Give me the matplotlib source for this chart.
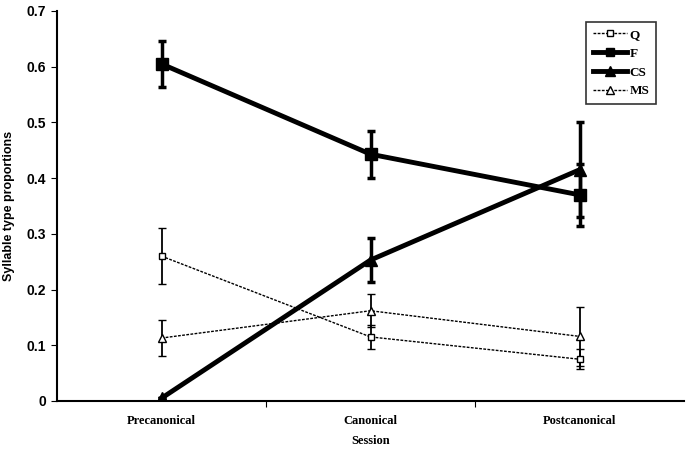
import matplotlib
matplotlib.use('Agg')
import matplotlib.pyplot as plt
from matplotlib.lines import Line2D
import numpy as np

sessions = ["Precanonical", "Canonical", "Postcanonical"]

q_vals = [0.26, 0.115, 0.075]
q_err = [0.05, 0.021, 0.018]
f_vals = [0.605, 0.443, 0.370]
f_err = [0.042, 0.042, 0.056]
cs_vals = [0.005, 0.253, 0.415]
cs_err = [0.0, 0.04, 0.085]
ms_vals = [0.113, 0.162, 0.116]
ms_err = [0.032, 0.03, 0.053]

plt.rcParams['font.family'] = ['Liberation Serif', 'DejaVu Serif']

fig = plt.figure(figsize=(6.91, 4.54), dpi=100)
ax = fig.add_axes([57/691, 53/454, 627/691, 390/454])

x = np.arange(len(sessions))

thin = dict(color='black', lw=1.0, ls=(0, (2, 1)), mec='black',
            mfc='white', mew=1.0)
thick = dict(color='black', lw=3.5, mec='black', mfc='black')

# thin dashed series
ax.errorbar(x, q_vals, yerr=q_err, marker='s', ms=5, **thin,
            elinewidth=1.3, capsize=3, capthick=1.3)
ax.errorbar(x, ms_vals, yerr=ms_err, marker='^', ms=6, **thin,
            elinewidth=1.3, capsize=3, capthick=1.3)
# thick solid series
ax.errorbar(x, f_vals, yerr=f_err, marker='s', ms=8, **thick,
            elinewidth=2.5, capsize=3, capthick=2.5)
ax.errorbar(x, cs_vals, yerr=cs_err, marker='^', ms=9, **thick,
            elinewidth=2.5, capsize=3, capthick=2.5)

ax.set_xlim(-0.5, 2.5)
ax.set_ylim(0, 0.7)
ax.set_yticks(np.arange(0, 0.71, 0.1))
ax.set_yticklabels(['0', '0.1', '0.2', '0.3', '0.4', '0.5', '0.6', '0.7'],
                   family='Liberation Sans', fontweight='bold', fontsize=10)
ax.set_xticks([0.5, 1.5])
ax.set_xticklabels([])
ax.set_xticks(x, minor=True)
ax.set_xticklabels(sessions, minor=True, fontweight='bold', fontsize=9)
ax.tick_params(axis='x', which='minor', length=0, pad=10)
ax.tick_params(axis='x', which='major', length=4, direction='out')
ax.tick_params(axis='y', length=4, direction='out', pad=4)

for s in ['top', 'right']:
    ax.spines[s].set_visible(False)
ax.spines['left'].set_linewidth(1.5)
ax.spines['bottom'].set_linewidth(1.5)

ax.set_xlabel('Session', fontweight='bold', fontsize=9, labelpad=6)
ax.set_ylabel('Syllable type proportions', family='Liberation Sans',
              fontweight='bold', fontsize=9, labelpad=8)

handles = [
    Line2D([], [], marker='s', ms=5, **thin),
    Line2D([], [], marker='s', ms=6, **thick),
    Line2D([], [], marker='^', ms=7, **thick),
    Line2D([], [], marker='^', ms=6, **thin),
]
leg = ax.legend(handles, ['Q', 'F', 'CS', 'MS'],
                loc='upper left', bbox_to_anchor=(529/627, 379/390),
                frameon=True, fancybox=False, edgecolor='black',
                prop={'weight': 'bold', 'size': 9.5}, handlelength=2.6,
                labelspacing=0.5, borderpad=0.5, handletextpad=0.2,
                borderaxespad=0)
leg.get_frame().set_linewidth(1.2)

fig.savefig('out.png', dpi=100)
